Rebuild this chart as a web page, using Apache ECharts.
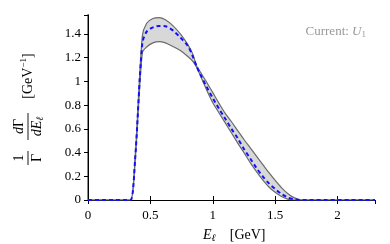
<!DOCTYPE html>
<html><head><meta charset="utf-8">
<script src="https://cdn.jsdelivr.net/npm/echarts@6/dist/echarts.min.js"></script>
<style>html,body{margin:0;padding:0;background:#fff}#c{width:390px;height:244px}</style>
</head><body><div id="c"></div>
<script>
const xs     = [0, 0.1, 0.2, 0.3, 0.342, 0.378, 0.435, 0.47, 0.52, 0.57, 0.62, 0.68, 0.74, 0.8, 0.84, 0.87, 0.9, 0.95, 1.0, 1.05, 1.1, 1.15, 1.2, 1.25, 1.3, 1.35, 1.4, 1.45, 1.5, 1.55, 1.6, 1.65, 1.7, 1.72, 1.8, 1.9, 2.0, 2.1, 2.2, 2.3];
const center = [0, 0, 0, 0, 0, 0.35, 1.32, 1.42, 1.455, 1.468, 1.465, 1.43, 1.37, 1.30, 1.21, 1.13, 1.06, 0.955, 0.86, 0.77, 0.685, 0.60, 0.52, 0.43, 0.35, 0.27, 0.20, 0.14, 0.093, 0.052, 0.022, 0.006, 0, 0, 0, 0, 0, 0, 0, 0];
const lower  = [0, 0, 0, 0, 0, 0.33, 1.24, 1.29, 1.325, 1.336, 1.325, 1.295, 1.26, 1.21, 1.17, 1.12, 1.05, 0.93, 0.82, 0.735, 0.65, 0.565, 0.48, 0.40, 0.315, 0.24, 0.17, 0.11, 0.065, 0.03, 0.008, 0, 0, 0, 0, 0, 0, 0, 0, 0];
const upper  = [0, 0, 0, 0, 0, 0.37, 1.38, 1.49, 1.53, 1.538, 1.52, 1.47, 1.40, 1.31, 1.23, 1.13, 1.08, 0.995, 0.905, 0.815, 0.73, 0.66, 0.585, 0.51, 0.44, 0.37, 0.30, 0.23, 0.165, 0.105, 0.055, 0.02, 0.002, 0, 0, 0, 0, 0, 0, 0, 0];
const xTicks = [0, 0.5, 1, 1.5, 2];
const yTicks = [0, 0.2, 0.4, 0.6, 0.8, 1, 1.2, 1.4];

const pair = a => xs.map((x, i) => [x, a[i]]);
const serif = 'Liberation Serif';
const grey = '#6a6a6a';
const R = Math.PI / 2;
const ctr = {textAlign: 'center', textVerticalAlign: 'middle', fill: '#000'};

const chart = echarts.init(document.getElementById('c'), null, {renderer: 'canvas'});
chart.setOption({
  animation: false,
  grid: {left: 88, right: 15, top: 15, bottom: 44},
  xAxis: [{
    type: 'value', min: 0, max: 2.3, interval: 0.5, position: 'bottom', z: 1.5,
    axisLine: {show: true, onZero: false, lineStyle: {color: '#000', width: 1}},
    axisTick: {show: true, inside: true, length: 4, lineStyle: {color: '#000'}},
    axisLabel: {showMaxLabel: false, color: '#000', fontFamily: serif, fontSize: 13, margin: 9},
    splitLine: {show: false}
  }, {
    type: 'value', min: 0, max: 2.3, interval: 0.5, position: 'top', z: 1.5,
    axisLine: {show: true, lineStyle: {color: '#000', width: 1}},
    axisTick: {show: true, inside: true, length: 4, lineStyle: {color: '#000'}},
    axisLabel: {show: false}, splitLine: {show: false}
  }],
  yAxis: [{
    type: 'value', min: 0, max: 1.56, interval: 0.2, position: 'left', z: 1.5,
    axisLine: {show: true, lineStyle: {color: '#888', width: 2}},
    axisTick: {show: true, inside: false, length: 4, lineStyle: {color: '#888'}},
    axisLabel: {showMaxLabel: false, color: '#000', fontFamily: serif, fontSize: 13, margin: 7},
    splitLine: {show: false}
  }, {
    type: 'value', min: 0, max: 1.56, interval: 0.2, position: 'right', z: 1.5,
    axisLine: {show: true, lineStyle: {color: '#000', width: 1}},
    axisTick: {show: true, inside: true, length: 4, lineStyle: {color: '#000'}},
    axisLabel: {show: false}, splitLine: {show: false}
  }],
  series: [
    {type: 'line', data: pair(upper), symbol: 'none', smooth: 0.3, z: 1, lineStyle: {opacity: 0}, areaStyle: {color: '#d8d8d8', opacity: 1}, silent: true},
    {type: 'line', data: pair(lower), symbol: 'none', smooth: 0.3, z: 1.1, lineStyle: {opacity: 0}, areaStyle: {color: '#ffffff', opacity: 1}, silent: true},
    {type: 'line', data: pair(lower), symbol: 'none', smooth: 0.3, z: 3, lineStyle: {color: grey, width: 1.2}},
    {type: 'line', data: pair(upper), symbol: 'none', smooth: 0.3, z: 3, lineStyle: {color: grey, width: 1.2}},
    {type: 'line', data: pair(center), symbol: 'none', smooth: 0.3, z: 5, lineStyle: {color: '#1010ff', width: 2, type: [4, 3]}}
  ],
  graphic: [
    {type: 'text', x: 19, y: 158, rotation: R, style: Object.assign({text: '1', font: '14px ' + serif}, ctr)},
    {type: 'text', x: 37, y: 158, rotation: R, style: Object.assign({text: 'Γ', font: '14px ' + serif}, ctr)},
    {type: 'line', shape: {x1: 28, y1: 151, x2: 28, y2: 165}, style: {stroke: '#000', lineWidth: 0.9}},
    {type: 'text', x: 19, y: 126.5, rotation: R, style: Object.assign({text: '{i|d}Γ', font: '14px ' + serif,
      rich: {i: {fontStyle: 'italic', fontFamily: serif, fontSize: 14}}}, ctr)},
    {type: 'text', x: 37, y: 126.5, rotation: R, style: Object.assign({text: '{i|dE}{s|ℓ}', font: '14px ' + serif,
      rich: {i: {fontStyle: 'italic', fontFamily: serif, fontSize: 14}, s: {fontStyle: 'italic', fontFamily: serif, fontSize: 10, padding: [6, 0, 0, 0]}}}, ctr)},
    {type: 'line', shape: {x1: 28, y1: 113, x2: 28, y2: 140}, style: {stroke: '#000', lineWidth: 0.9}},
    {type: 'text', x: 28, y: 76, rotation: R, style: Object.assign({text: '[GeV{s|−1}]', font: '14px ' + serif,
      rich: {s: {fontFamily: serif, fontSize: 9, padding: [0, 0, 8, 0]}}}, ctr)},
    {type: 'text', left: 203, top: 228, style: {text: '{i|E}{s|ℓ}    [GeV]', font: '14px ' + serif, fill: '#000',
      rich: {i: {fontStyle: 'italic', fontFamily: serif, fontSize: 14}, s: {fontStyle: 'italic', fontFamily: serif, fontSize: 10, padding: [6, 0, 0, 0]}}}},
    {type: 'text', right: 24, top: 25, style: {text: 'Current: {i|U}{s|1}', font: '13px ' + serif, fill: '#999',
      rich: {i: {fontStyle: 'italic', fontFamily: serif, fontSize: 13, fill: '#999'}, s: {fontFamily: serif, fontSize: 9, padding: [6, 0, 0, 0], fill: '#999'}}}}
  ]
});
</script></body></html>
